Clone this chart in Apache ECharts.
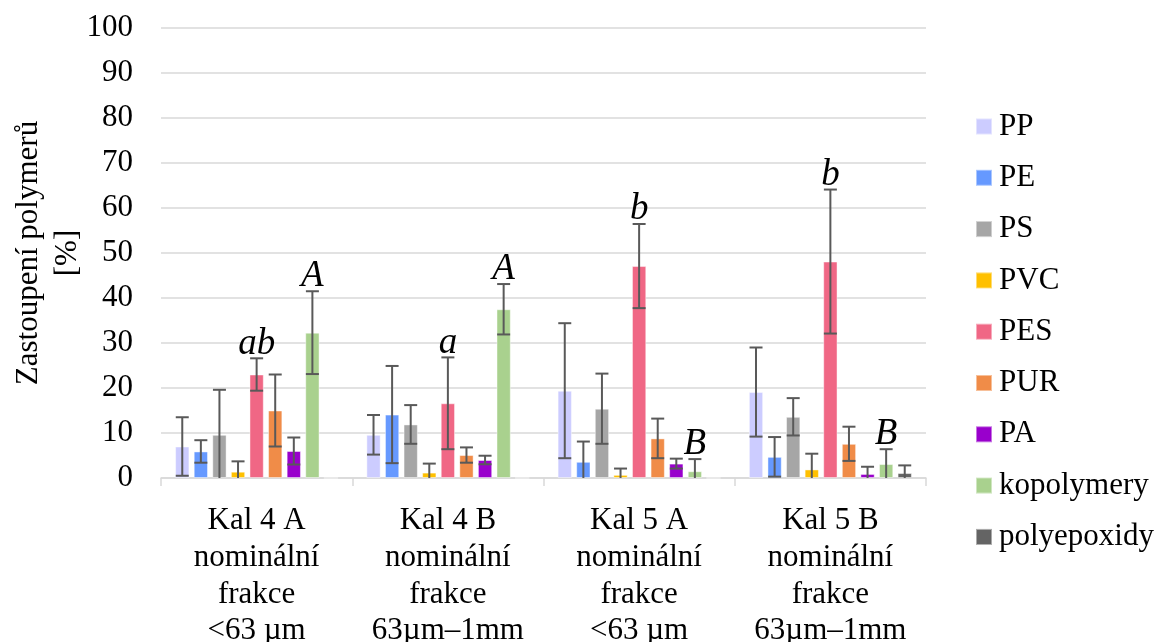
<!DOCTYPE html>
<html>
<head>
<meta charset="utf-8">
<script src="https://cdn.jsdelivr.net/npm/echarts@6/dist/echarts.min.js"></script>
<style>
html,body{margin:0;padding:0;background:#fff;}
#chart{width:1155px;height:642px;}
</style>
</head>
<body>
<div id="chart"></div>
<script>
const categories = [
  'Kal 4 A\nnominální\nfrakce\n<63 µm',
  'Kal 4 B\nnominální\nfrakce\n63µm–1mm',
  'Kal 5 A\nnominální\nfrakce\n<63 µm',
  'Kal 5 B\nnominální\nfrakce\n63µm–1mm'
];
const seriesNames = ['PP','PE','PS','PVC','PES','PUR','PA','kopolymery','polyepoxidy'];
const seriesColors = ['#CCCCFF','#6699FF','#A6A6A6','#FFC000','#F06785','#F08C48','#9900CC','#A9D18E','#646464'];

// mean values per series (one per category)
const PP          = [7.0, 9.6, 19.4, 19.1];
const PE          = [5.9, 14.1, 3.6, 4.7];
const PS          = [9.6, 11.9, 15.4, 13.6];
const PVC         = [1.4, 1.2, 0.7, 1.9];
const PES         = [23.0, 16.6, 47.1, 48.1];
const PUR         = [15.0, 5.1, 8.8, 7.6];
const PA          = [6.0, 4.0, 3.2, 0.9];
const kopolymery  = [32.3, 37.5, 1.5, 3.1];
const polyepoxidy = [0, 0, 0, 1.1];

// error (± standard deviation)
const PP_err          = [6.5, 4.4, 15.0, 9.9];
const PE_err          = [2.5, 10.8, 4.5, 4.4];
const PS_err          = [10.0, 4.3, 7.8, 4.15];
const PVC_err         = [2.3, 2.0, 1.4, 3.5];
const PES_err         = [3.6, 10.2, 9.35, 16.0];
const PUR_err         = [8.0, 1.7, 4.4, 3.8];
const PA_err          = [3.0, 0.95, 1.1, 1.6];
const kopolymery_err  = [9.2, 5.6, 2.7, 3.3];
const polyepoxidy_err = [0, 0, 0, 1.7];

// significance letters
const PES_letters        = ['ab', 'a', 'b', 'b'];
const kopolymery_letters = ['A', 'A', 'B', 'B'];

const yTicks = { min: 0, max: 100, interval: 10 };

const means = [PP, PE, PS, PVC, PES, PUR, PA, kopolymery, polyepoxidy];
const errs  = [PP_err, PE_err, PS_err, PVC_err, PES_err, PUR_err, PA_err, kopolymery_err, polyepoxidy_err];
const letterMap = { 4: PES_letters, 7: kopolymery_letters };

const BAR_W = 14.3;
const BAR_GAP = 0.30;
const FONT = "'Liberation Serif', 'Times New Roman', serif";

const errData = [];
const errLetters = [];
means.forEach((arr, s) => {
  arr.forEach((v, c) => {
    errData.push([c, v, errs[s][c], s]);
    errLetters.push(letterMap[s] ? letterMap[s][c] : '');
  });
});

const barSeries = seriesNames.map((name, s) => ({
  name: name,
  type: 'bar',
  data: means[s],
  barWidth: BAR_W,
  barGap: (BAR_GAP * 100) + '%',
  itemStyle: { color: seriesColors[s], borderColor: 'rgba(255,255,255,0.45)', borderWidth: 1 },
  emphasis: { disabled: true },
  animation: false
}));

const errorSeries = {
  type: 'custom',
  name: 'err',
  data: errData,
  z: 10,
  animation: false,
  renderItem: function (params, api) {
    const c = api.value(0), mean = api.value(1), err = api.value(2), s = api.value(3);
    const n = seriesNames.length;
    const gapPx = BAR_W * BAR_GAP;
    const total = n * BAR_W + (n - 1) * gapPx;
    const center = api.coord([c, 0]);
    const x = center[0] - total / 2 + s * (BAR_W + gapPx) + BAR_W / 2;
    const children = [];
    const hi = mean + err, lo = mean - err;
    const pHi = api.coord([c, hi])[1];
    const pLo = api.coord([c, Math.max(lo, 0)])[1];
    const style = { stroke: '#595959', lineWidth: 2 };
    const cap = 6.5;
    if (err > 0) {
      children.push({ type: 'line', shape: { x1: x, y1: pHi, x2: x, y2: pLo }, style: style });
      children.push({ type: 'line', shape: { x1: x - cap, y1: pHi, x2: x + cap, y2: pHi }, style: style });
      if (lo >= 0) {
        children.push({ type: 'line', shape: { x1: x - cap, y1: pLo, x2: x + cap, y2: pLo }, style: style });
      }
    }
    const letter = errLetters[params.dataIndex];
    if (letter) {
      children.push({
        type: 'text',
        style: {
          x: x, y: pHi + 4, text: letter,
          textAlign: 'center', textVerticalAlign: 'bottom',
          fontFamily: FONT, fontStyle: 'italic', fontSize: 37, fill: '#000'
        }
      });
    }
    return { type: 'group', children: children };
  }
};

const chart = echarts.init(document.getElementById('chart'), null, { renderer: 'canvas' });
chart.setOption({
  backgroundColor: '#fff',
  animation: false,
  textStyle: { fontFamily: FONT },
  grid: { left: 161, right: 229, top: 28, bottom: 164, containLabel: false, outerBoundsMode: 'none' },
  legend: {
    orient: 'vertical',
    left: 970,
    top: 106,
    itemWidth: 16,
    itemHeight: 16,
    itemGap: 20.3,
    icon: 'rect',
    data: seriesNames,
    textStyle: { fontFamily: FONT, fontSize: 31, color: '#000', lineHeight: 31, padding: [0, 0, 0, 2] },
    selectedMode: false
  },
  xAxis: {
    type: 'category',
    data: categories,
    axisLine: { lineStyle: { color: '#D9D9D9', width: 1.5 } },
    axisTick: { show: true, length: 8, lineStyle: { color: '#D9D9D9', width: 1.5 } },
    axisLabel: { fontFamily: FONT, fontSize: 31, lineHeight: 36.6, color: '#000', margin: 25, interval: 0 }
  },
  yAxis: {
    type: 'value',
    min: yTicks.min, max: yTicks.max, interval: yTicks.interval,
    name: 'Zastoupení polymerů\n[%]',
    nameLocation: 'middle',
    nameRotate: 90,
    nameGap: 74,
    nameMoveOverlap: false,
    nameTextStyle: { fontFamily: FONT, fontSize: 31, color: '#000', lineHeight: 39 },
    axisLine: { show: false },
    axisTick: { show: false },
    axisLabel: { fontFamily: FONT, fontSize: 31, color: '#000', margin: 28, padding: [7, 0, 0, 0] },
    splitLine: { lineStyle: { color: '#D9D9D9', width: 1.5 } }
  },
  series: barSeries.concat([errorSeries])
});
</script>
</body>
</html>
